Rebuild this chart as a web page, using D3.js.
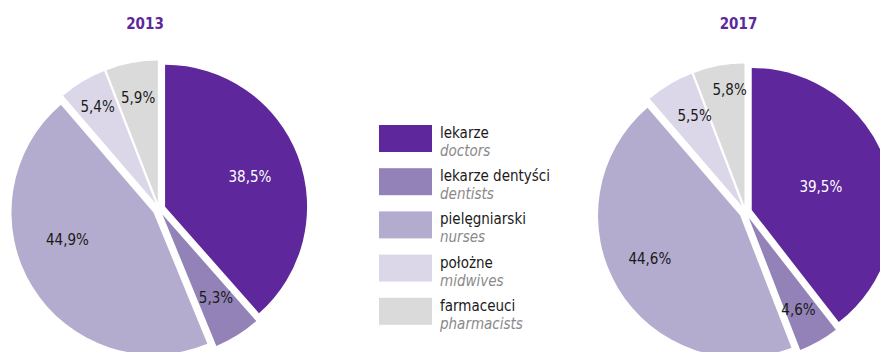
<!DOCTYPE html>
<html>
<head>
<meta charset="utf-8">
<script src="https://cdn.jsdelivr.net/npm/d3@7"></script>
<style>
  html, body { margin: 0; padding: 0; background: #fff; }
  svg { display: block; font-family: "Liberation Sans Narrow", "DejaVu Sans Condensed", sans-serif; }
</style>
</head>
<body>
<svg id="chart" width="880" height="352"></svg>
<script>
// Medical staff structure by profession (%)
const categoriesPl = ["lekarze", "lekarze dentyści", "pielęgniarski", "położne", "farmaceuci"];
const categoriesEn = ["doctors", "dentists", "nurses", "midwives", "pharmacists"];
const years = ["2013", "2017"];
const values2013 = [38.5, 5.3, 44.9, 5.4, 5.9];
const values2017 = [39.5, 4.6, 44.6, 5.5, 5.8];
const colors = ["#5e279b", "#9282b8", "#b4acce", "#dbd7e8", "#dadada"];

// Label placement: fraction of radius and angular nudge (degrees) per slice
const labelRadius2013 = [0.68, 0.74, 0.68, 0.84, 0.80];
const labelNudge2013 = [1, -1, 13, 0, 0];
const labelRadius2017 = [0.56, 0.78, 0.75, 0.77, 0.87];
const labelNudge2017 = [0, 1, 5, 3, 3];

const svg = d3.select("#chart");
const radius = 142;
const explode = 6.5;

const pies = [
  { year: years[0], values: values2013, cx: 159, cy: 209, tx: 145, lr: labelRadius2013, ln: labelNudge2013 },
  { year: years[1], values: values2017, cx: 745.6, cy: 212, tx: 738.5, lr: labelRadius2017, ln: labelNudge2017 }
];

const pie = d3.pie().sort(null).value(d => d);
const arc = d3.arc().innerRadius(0).outerRadius(radius);
const fmt = v => d3.format(".1f")(v).replace(".", ",") + "%";

pies.forEach(p => {
  svg.append("text")
    .attr("x", p.tx).attr("y", 29)
    .attr("text-anchor", "middle")
    .attr("fill", colors[0])
    .attr("font-weight", "bold")
    .attr("font-size", 15)
    .text(p.year);

  const g = svg.append("g").attr("transform", `translate(${p.cx},${p.cy})`);
  const arcs = pie(p.values);

  g.selectAll("path").data(arcs).join("path")
    .attr("d", arc)
    .attr("fill", (d, i) => colors[i])
    .attr("transform", d => {
      const a = (d.startAngle + d.endAngle) / 2;
      return `translate(${explode * Math.sin(a)},${-explode * Math.cos(a)})`;
    });

  g.selectAll("text").data(arcs).join("text")
    .attr("x", (d, i) => {
      const a = (d.startAngle + d.endAngle) / 2 + p.ln[i] * Math.PI / 180;
      return radius * p.lr[i] * Math.sin(a);
    })
    .attr("y", (d, i) => {
      const a = (d.startAngle + d.endAngle) / 2 + p.ln[i] * Math.PI / 180;
      return -radius * p.lr[i] * Math.cos(a);
    })
    .attr("dy", "0.35em")
    .attr("text-anchor", "middle")
    .attr("font-size", 15)
    .attr("fill", (d, i) => i === 0 ? "#ffffff" : "#1a1a1a")
    .text(d => fmt(d.data));
});

// Legend
const legendY = d3.scaleBand().domain(d3.range(categoriesPl.length)).range([125, 341]).paddingInner(0);
const legend = svg.append("g");
categoriesPl.forEach((name, i) => {
  const y = legendY(i);
  legend.append("rect")
    .attr("x", 379).attr("y", y)
    .attr("width", 53).attr("height", 27)
    .attr("fill", colors[i]);
  legend.append("text")
    .attr("x", 440).attr("y", y + 13)
    .attr("font-size", 15)
    .attr("fill", "#1a1a1a")
    .text(name);
  legend.append("text")
    .attr("x", 440).attr("y", y + 31)
    .attr("font-size", 15)
    .attr("font-style", "italic")
    .attr("fill", "#8a8a8a")
    .text(categoriesEn[i]);
});
</script>
</body>
</html>
